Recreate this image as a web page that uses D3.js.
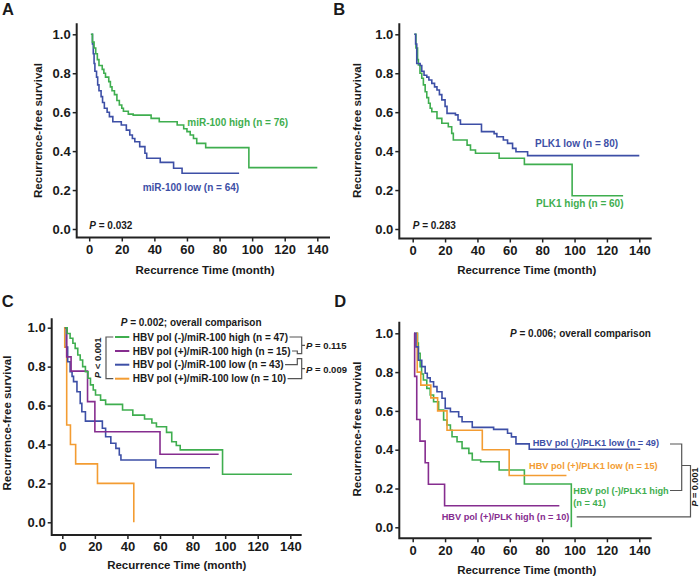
<!DOCTYPE html>
<html><head><meta charset="utf-8">
<script src="https://cdn.jsdelivr.net/npm/d3@7"></script>
<style>
body{margin:0;background:#fff}
svg{display:block}
text{font-family:"Liberation Sans",Arial,Helvetica,sans-serif;font-weight:bold;fill:#1a1a1a}
</style>
</head><body>
<svg id="chart" width="700" height="576"></svg>
<script>
// ---------- colours ----------
const GREEN = "#3fae4f", BLUE = "#3d4fa6", PURPLE = "#862d8f", ORANGE = "#f39c32";

// ---------- tick labels ----------
const xTicks = [0, 20, 40, 60, 80, 100, 120, 140];
const yTicks = [0, 0.2, 0.4, 0.6, 0.8, 1.0];

// ---------- data: [month, survival] step points ----------
// Panel A
const aHigh = [[1,1.0],[2,0.96],[3,0.93],[4,0.9],[5,0.87],[6,0.84],[8,0.82],[9,0.8],[10,0.78],[12,0.757],[13,0.73],[14,0.71],[15.5,0.69],[17,0.66],[18.5,0.637],[20,0.62],[21,0.605],[24,0.59],[27,0.585],[38,0.568],[43,0.551],[54,0.534],[58,0.515],[60,0.5],[62,0.483],[64,0.465],[66,0.44],[71.5,0.418],[98,0.315],[140,0.315]];
const aLow = [[1.5,1.0],[2,0.95],[2.5,0.9],[3,0.85],[3.5,0.81],[4.5,0.78],[5.2,0.74],[6,0.71],[7.3,0.68],[8.2,0.65],[9.3,0.62],[11,0.6],[12.4,0.577],[14.5,0.551],[19.7,0.534],[22.8,0.508],[24.9,0.483],[26.5,0.465],[28,0.448],[31,0.423],[34.2,0.389],[35.3,0.363],[43.6,0.342],[51.8,0.312],[57,0.286],[92,0.286]];
// Panel B
const bLow = [[1,1.0],[1.8,0.95],[2.5,0.85],[4.6,0.84],[5.6,0.81],[7,0.79],[8.7,0.78],[10,0.765],[11.8,0.748],[13.5,0.73],[15,0.714],[16.5,0.69],[18,0.663],[20,0.63],[21.2,0.594],[26.4,0.586],[28,0.56],[29.5,0.538],[42.5,0.5],[50.3,0.49],[52,0.474],[56,0.457],[58.6,0.44],[61.7,0.414],[63.8,0.397],[71,0.377],[140,0.377]];
const bHigh = [[1,1.0],[2,0.93],[3,0.87],[3.5,0.842],[4.5,0.8],[5.6,0.774],[6.6,0.74],[7.7,0.705],[8.7,0.675],[9.8,0.646],[10.8,0.62],[11.8,0.602],[15,0.568],[18,0.543],[22,0.525],[24.1,0.491],[25.1,0.457],[33.6,0.431],[35.7,0.406],[38.8,0.389],[53.4,0.363],[69,0.332],[98.5,0.171],[130,0.171]];
// Panel C
const cNegHigh = [[1.7,1.0],[3,0.97],[4.8,0.946],[6.5,0.92],[7.9,0.894],[9.5,0.86],[11,0.834],[12.5,0.8],[14.2,0.774],[15.8,0.74],[17.3,0.706],[19,0.68],[20.4,0.654],[23.5,0.628],[26.6,0.606],[37,0.577],[43.3,0.551],[50.5,0.531],[55,0.51],[57.8,0.491],[64,0.462],[67.2,0.414],[70,0.395],[72.4,0.372],[98.4,0.247],[141,0.247]];
const cPosHigh = [[1.5,1.0],[2.7,0.85],[5.4,0.777],[15.5,0.62],[20,0.465],[60,0.35],[96,0.35]];
const cNegLow = [[1.7,1.0],[2.5,0.9],[3.3,0.825],[4.8,0.774],[6,0.75],[6.9,0.723],[9,0.671],[11,0.611],[12,0.568],[14.2,0.52],[24.6,0.483],[26.6,0.44],[29.8,0.406],[32.9,0.38],[35,0.346],[36,0.32],[57.4,0.28],[90.7,0.28]];
const cPosLow = [[1,1.0],[1.5,0.9],[2.7,0.5],[5,0.4],[8.2,0.3],[21.6,0.2],[43.9,0.0]];
// Panel D
const dNegLow = [[0.8,1.0],[2,0.93],[3.5,0.861],[5.6,0.828],[7.7,0.794],[9,0.77],[10.8,0.75],[12.9,0.725],[15,0.699],[18.1,0.665],[20.1,0.613],[23.3,0.596],[28.4,0.57],[30.5,0.544],[36.8,0.515],[50,0.505],[58.6,0.485],[61,0.466],[63.8,0.43],[72,0.402],[140.6,0.402]];
const dPosLow = [[2,1.0],[2.8,0.8],[5,0.733],[11.2,0.667],[15.4,0.6],[21.2,0.5],[43,0.4],[59.6,0.267],[95,0.267]];
const dNegHigh = [[2,1.0],[3,0.95],[3.5,0.897],[4.6,0.828],[5.5,0.79],[6.6,0.759],[8.7,0.716],[10.8,0.682],[12.9,0.647],[16,0.605],[19.1,0.553],[21.2,0.527],[23.3,0.5],[24.3,0.467],[27.4,0.441],[30.5,0.407],[34.7,0.381],[36.8,0.347],[42,0.338],[53.4,0.295],[69,0.223],[98,0.0]];
const dPosHigh = [[0.8,1.0],[1.2,0.778],[2.5,0.556],[4.5,0.444],[7.7,0.333],[9.7,0.222],[19.7,0.111],[90.6,0.111]];

// ---------- text ----------
const yTitle = "Recurrence-free survival";
const xTitle = "Recurrence Time (month)";

const svg = d3.select("#chart");

function pText(g, x, y, rest, size, opts = {}) {
  const t = g.append("text").attr("x", x).attr("y", y).attr("font-size", size)
    .attr("text-anchor", opts.anchor || "start");
  if (opts.rotate) t.attr("transform", `rotate(-90,${x},${y})`);
  t.append("tspan").attr("font-style", "italic").text("P");
  t.append("tspan").text(rest);
  return t;
}

function drawPanel(cfg, series) {
  const g = svg.append("g");
  const x = d3.scaleLinear().domain([0, 140]).range([cfg.x0, cfg.x1]);
  const y = d3.scaleLinear().domain([0, 1]).range([cfg.y0, cfg.y1]);

  const ay = g.append("g").attr("transform", `translate(${cfg.ax},0)`)
    .call(d3.axisLeft(y).tickValues(yTicks).tickFormat(d3.format(".1f")).tickSize(4).tickPadding(2));
  const axb = g.append("g").attr("transform", `translate(0,${cfg.ay})`)
    .call(d3.axisBottom(x).tickValues(xTicks).tickSize(4).tickPadding(3));
  [ay, axb].forEach(a => {
    a.select(".domain").remove();
    a.selectAll(".tick line").attr("stroke", "#222").attr("stroke-width", 1.5);
    a.selectAll(".tick text").attr("font-size", 13).attr("font-family", null).attr("fill", "#1a1a1a");
  });
  g.append("path")
    .attr("d", `M${cfg.ax},${cfg.axTop}V${cfg.ay}H${cfg.axRight}`)
    .attr("fill", "none").attr("stroke", "#222").attr("stroke-width", 2);

  g.append("text").attr("transform", `translate(${cfg.ytx},${cfg.yty}) rotate(-90)`)
    .attr("text-anchor", "middle").attr("dy", "0.35em").attr("font-size", 11.5).text(yTitle);
  g.append("text").attr("x", cfg.xtx).attr("y", cfg.xty)
    .attr("text-anchor", "middle").attr("font-size", 11.5).text(xTitle);
  g.append("text").attr("x", cfg.lx).attr("y", cfg.ly).attr("font-size", 16.5).text(cfg.letter);

  const line = d3.line().x(d => x(d[0])).y(d => y(d[1])).curve(d3.curveStepAfter);
  series.forEach(s => {
    g.append("path").datum(s.data).attr("d", line)
      .attr("fill", "none").attr("stroke", s.color).attr("stroke-width", 1.6);
  });
  return g;
}

// ---------- Panel A ----------
const gA = drawPanel({letter:"A", lx:2, ly:15, x0:89.2, x1:317.3, y0:229, y1:34.3, ax:76.7, ay:237.5, axTop:23.3, axRight:330, ytx:38, yty:130.5, xtx:205, xty:274},
  [{data:aLow, color:BLUE}, {data:aHigh, color:GREEN}]);
gA.append("text").attr("x",187.3).attr("y",126).attr("font-size",10).style("fill",GREEN).text("miR-100 high (n = 76)");
gA.append("text").attr("x",142.7).attr("y",191).attr("font-size",10).style("fill",BLUE).text("miR-100 low (n = 64)");
pText(gA, 89.3, 229.3, " = 0.032", 10);

// ---------- Panel B ----------
const gB = drawPanel({letter:"B", lx:333.3, ly:15, x0:412.7, x1:639.3, y0:229, y1:34.3, ax:399.3, ay:238.5, axTop:23.3, axRight:651.7, ytx:357, yty:130.5, xtx:526.7, xty:274},
  [{data:bHigh, color:GREEN}, {data:bLow, color:BLUE}]);
gB.append("text").attr("x",535).attr("y",147).attr("font-size",10).style("fill",BLUE).text("PLK1 low (n = 80)");
gB.append("text").attr("x",536).attr("y",207).attr("font-size",10).style("fill",GREEN).text("PLK1 high (n = 60)");
pText(gB, 412.7, 228.6, " = 0.283", 10);

// ---------- Panel C ----------
const gC = drawPanel({letter:"C", lx:1.7, ly:306.7, x0:62.3, x1:290.3, y0:522.3, y1:327.7, ax:51.7, ay:535, axTop:318.3, axRight:301.7, ytx:7, yty:423, xtx:176.7, xty:569},
  [{data:cPosLow, color:ORANGE}, {data:cNegLow, color:BLUE}, {data:cPosHigh, color:PURPLE}, {data:cNegHigh, color:GREEN}]);
pText(gC, 120.7, 325.6, " = 0.002; overall comparison", 10);
const cLegend = [
  {label:"HBV pol (-)/miR-100 high (n = 47)", color:GREEN},
  {label:"HBV pol (+)/miR-100 high (n = 15)", color:PURPLE},
  {label:"HBV pol (-)/miR-100 low (n = 43)", color:BLUE},
  {label:"HBV pol (+)/miR-100 low (n = 10)", color:ORANGE}
];
const cRows = [337, 351, 364.7, 378.7];
const cEnds = [];
cLegend.forEach((d, i) => {
  gC.append("line").attr("x1",115).attr("x2",129.3).attr("y1",cRows[i]).attr("y2",cRows[i])
    .attr("stroke", d.color).attr("stroke-width", 2);
  const t = gC.append("text").attr("x",132.7).attr("y",cRows[i]).attr("dy","0.35em").attr("font-size",10).text(d.label);
  cEnds.push(132.7 + t.node().getComputedTextLength() + 1.5);
});
const BR = "#555";
gC.append("path").attr("d", `M113.3,${cRows[0]}H106V${cRows[3]}H113.3`).attr("fill","none").attr("stroke",BR).attr("stroke-width",1.2);
pText(gC, 97.3, 357.8, " < 0.001", 9.5, {anchor:"middle", rotate:true}).attr("dy","0.35em");
gC.append("path").attr("d", `M${cEnds[0]},${cRows[0]}H301.7V353.7H297.3V${cRows[1]}H${cEnds[1]}M301.7,345.3H305`)
  .attr("fill","none").attr("stroke",BR).attr("stroke-width",1.2);
gC.append("path").attr("d", `M${cEnds[2]},${cRows[2]}H297.3V358.7H301.7V${cRows[3]}H${cEnds[3]}M301.7,368.7H305`)
  .attr("fill","none").attr("stroke",BR).attr("stroke-width",1.2);
pText(gC, 306, 349.3, " = 0.115", 9.5);
pText(gC, 306, 372.7, " = 0.009", 9.5);

// ---------- Panel D ----------
const gD = drawPanel({letter:"D", lx:334.3, ly:306.7, x0:412.7, x1:639.3, y0:527.3, y1:333.3, ax:399.3, ay:538.3, axTop:321.7, axRight:651.7, ytx:357, yty:429, xtx:526.7, xty:573.5},
  [{data:dNegHigh, color:GREEN}, {data:dPosLow, color:ORANGE}, {data:dNegLow, color:BLUE}, {data:dPosHigh, color:PURPLE}]);
pText(gD, 510, 337, " = 0.006; overall comparison", 10);
gD.append("text").attr("x",532.7).attr("y",442.3).attr("dy","0.35em").attr("font-size",9.2).style("fill",BLUE).text("HBV pol (-)/PLK1 low (n = 49)");
gD.append("text").attr("x",529).attr("y",466).attr("dy","0.35em").attr("font-size",9.2).style("fill",ORANGE).text("HBV pol (+)/PLK1 low (n = 15)");
gD.append("text").attr("x",573.3).attr("y",490.5).attr("dy","0.35em").attr("font-size",9.2).style("fill",GREEN).text("HBV pol (-)/PLK1 high");
gD.append("text").attr("x",573.3).attr("y",502.3).attr("dy","0.35em").attr("font-size",9.2).style("fill",GREEN).text("(n = 41)");
gD.append("text").attr("x",441.7).attr("y",516.5).attr("dy","0.35em").attr("font-size",9.2).style("fill",PURPLE).text("HBV pol (+)/PLK high (n = 10)");
gD.append("path").attr("d","M670,444H681.7V490.5H670M681.7,465.5H690.5V516.8H576.7")
  .attr("fill","none").attr("stroke",BR).attr("stroke-width",1.2);
pText(gD, 695, 487, " = 0.001", 9, {anchor:"middle", rotate:true}).attr("dy","0.32em");
</script>
</body></html>
